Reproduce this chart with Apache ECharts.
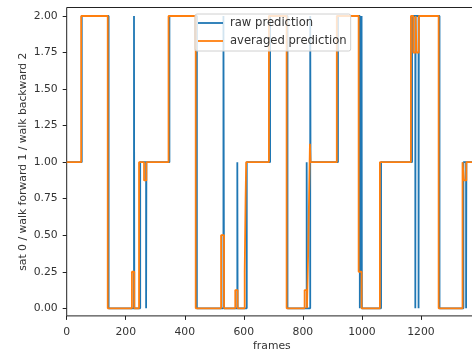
<!DOCTYPE html>
<html>
<head>
<meta charset="utf-8">
<script src="https://cdn.jsdelivr.net/npm/echarts@6/dist/echarts.min.js"></script>
<style>
  html, body { margin: 0; padding: 0; background: #fff; }
  #chart { width: 472px; height: 351px; }
</style>
</head>
<body>
<div id="chart"></div>
<script>
// frame where each class run starts, and its class value
const rawFrames = [0, 51, 142, 228, 229, 249, 269, 270, 348, 441, 531, 533, 578, 579, 610, 689, 748,
  813, 814, 825, 826, 919, 993, 999, 1000, 1065, 1170, 1181, 1182, 1192, 1193, 1263, 1344, 1353, 1354, 1390];
const rawValues = [1, 2, 0, 2, 0, 1, 0, 1, 2, 0, 2, 0, 1, 0, 1, 2, 0,
  1, 0, 2, 1, 2, 0, 2, 0, 1, 2, 0, 2, 0, 2, 0, 1, 0, 1, 1];

const avgFrames = [0, 49, 139, 221, 229, 245, 262, 270, 345, 437, 523, 533, 571, 579, 603, 606, 608, 685, 745,
  806, 814, 818, 821, 824, 826, 915, 989, 999, 1061, 1166, 1174, 1182, 1185, 1193, 1260, 1341, 1346, 1354, 1390];
const avgValues = [1, 2, 0, 0.25, 0, 1, 0.875, 1, 2, 0, 0.5, 0, 0.125, 0, 0.25, 0.75, 1, 2, 0,
  0.125, 0, 0.375, 0.75, 1.125, 1, 2, 0.25, 0, 1, 2, 1.75, 2, 1.75, 2, 0, 1, 0.875, 1, 1];

const xTicks = [0, 200, 400, 600, 800, 1000, 1200];
const yTicks = [0, 0.25, 0.5, 0.75, 1, 1.25, 1.5, 1.75, 2];

const zip = (xs, ys) => xs.map((x, i) => [x, ys[i]]);
const textColor = '#333';
const font = 'DejaVu Sans';

const chart = echarts.init(document.getElementById('chart'));

chart.setOption({
  animation: false,
  backgroundColor: '#fff',
  textStyle: { fontFamily: font },
  grid: {
    left: 66.7,
    right: -5,
    top: 7.5,
    bottom: 35.1,
    outerBoundsMode: 'none',
    containLabel: false,
    show: true,
    borderColor: '#222',
    borderWidth: 1,
    backgroundColor: 'transparent'
  },
  legend: {
    orient: 'vertical',
    left: 195,
    top: 14,
    padding: [3, 4, 4, 3],
    itemGap: 6,
    itemWidth: 25,
    itemHeight: 1.8,
    icon: 'rect',
    backgroundColor: 'rgba(255,255,255,0.8)',
    borderColor: '#d0d0d0',
    borderWidth: 1,
    borderRadius: 2,
    textStyle: { color: textColor, fontSize: 11.6, fontFamily: font, padding: [0, 0, 0, 2] },
    data: ['raw prediction', 'averaged prediction']
  },
  xAxis: {
    type: 'value',
    min: 0,
    max: 1390,
    name: 'frames',
    nameLocation: 'middle',
    nameGap: 25,
    nameMoveOverlap: false,
    nameTextStyle: { color: textColor, fontSize: 10.8, fontFamily: font },
    axisLine: { show: false, onZero: false },
    splitLine: { show: false },
    axisTick: {
      show: true,
      inside: false,
      length: 4,
      lineStyle: { color: '#222', width: 1 },
      customValues: xTicks
    },
    axisLabel: {
      color: textColor,
      fontSize: 10.8,
      fontFamily: font,
      margin: 11,
      customValues: xTicks,
      formatter: (v) => String(v)
    }
  },
  yAxis: {
    type: 'value',
    min: -0.052,
    max: 2.058,
    name: 'sat 0 / walk forward 1 / walk backward 2',
    nameLocation: 'middle',
    nameRotate: 90,
    nameGap: 38,
    nameMoveOverlap: false,
    nameTextStyle: { color: textColor, fontSize: 10.8, fontFamily: font },
    axisLine: { show: false, onZero: false },
    splitLine: { show: false },
    axisTick: {
      show: true,
      inside: false,
      length: 4,
      lineStyle: { color: '#222', width: 1 },
      customValues: yTicks
    },
    axisLabel: {
      color: textColor,
      fontSize: 10.8,
      fontFamily: font,
      margin: 9,
      customValues: yTicks,
      formatter: (v) => v.toFixed(2)
    }
  },
  series: [
    {
      name: 'raw prediction',
      type: 'line',
      step: 'end',
      data: zip(rawFrames, rawValues),
      symbol: 'none',
      color: '#1f77b4',
      lineStyle: { color: '#1f77b4', width: 1.8 }
    },
    {
      name: 'averaged prediction',
      type: 'line',
      step: 'end',
      data: zip(avgFrames, avgValues),
      symbol: 'none',
      color: '#ff7f0e',
      lineStyle: { color: '#ff7f0e', width: 1.8 }
    }
  ]
});
</script>
</body>
</html>
